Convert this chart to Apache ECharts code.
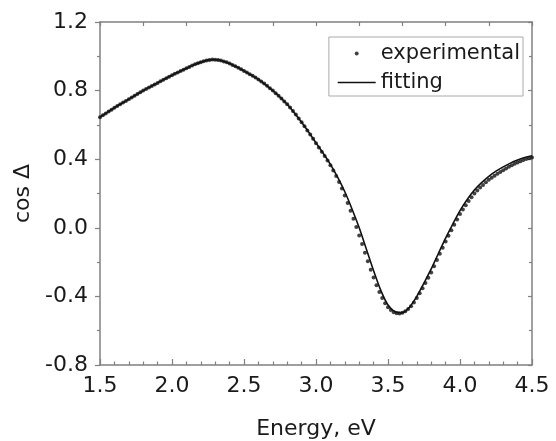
<!DOCTYPE html>
<html>
<head>
<meta charset="utf-8">
<script src="https://cdn.jsdelivr.net/npm/echarts@6/dist/echarts.min.js"></script>
<style>html,body{margin:0;padding:0;background:#fff}#c{width:556px;height:441px}</style>
</head>
<body>
<div id="c"></div>
<script>
// Experimental data: energy step 0.02 eV from 1.50 to 4.50
const expStart = 1.5;
const expStep = 0.02;
const expValues = [
0.645,0.656,0.667,0.678,0.689,0.700,0.710,0.720,0.730,0.740,
0.750,0.760,0.770,0.780,0.790,0.800,0.809,0.818,0.827,0.836,
0.845,0.854,0.863,0.872,0.881,0.890,0.898,0.906,0.914,0.922,
0.930,0.938,0.946,0.953,0.960,0.966,0.971,0.976,0.979,0.981,
0.980,0.978,0.975,0.970,0.965,0.958,0.950,0.942,0.933,0.924,
0.915,0.905,0.896,0.886,0.876,0.865,0.853,0.841,0.828,0.814,
0.800,0.785,0.770,0.754,0.737,0.720,0.701,0.681,0.660,0.638,
0.615,0.592,0.568,0.544,0.519,0.493,0.468,0.443,0.418,0.392,
0.364,0.334,0.302,0.267,0.229,0.188,0.145,0.100,0.053,0.004,
-0.045,-0.095,-0.145,-0.195,-0.245,-0.290,-0.335,-0.375,-0.410,-0.440,
-0.463,-0.480,-0.492,-0.498,-0.500,-0.496,-0.486,-0.474,-0.458,-0.435,
-0.410,-0.381,-0.352,-0.322,-0.291,-0.260,-0.224,-0.188,-0.152,-0.116,
-0.080,-0.047,-0.014,0.018,0.049,0.080,0.106,0.132,0.156,0.178,
0.200,0.217,0.235,0.250,0.265,0.280,0.292,0.304,0.315,0.325,
0.336,0.346,0.356,0.365,0.373,0.381,0.388,0.395,0.401,0.406,
0.410
];
// Fitting curve: energy step 0.05 eV from 1.50 to 4.50
const fitStart = 1.5;
const fitStep = 0.05;
const fitValues = [
0.645,0.673,0.700,0.725,0.750,0.775,0.800,0.823,0.845,0.868,
0.890,0.910,0.930,0.950,0.966,0.978,0.980,0.973,0.958,0.938,
0.915,0.891,0.865,0.834,0.800,0.762,0.720,0.670,0.615,0.557,
0.495,0.435,0.370,0.295,0.210,0.110,0.000,-0.125,-0.250,-0.365,
-0.450,-0.490,-0.495,-0.462,-0.400,-0.322,-0.240,-0.150,-0.060,0.022,
0.100,0.165,0.220,0.263,0.300,0.330,0.355,0.377,0.395,0.410,
0.420
];
const xTicks = [1.5, 2.0, 2.5, 3.0, 3.5, 4.0, 4.5];
const yTicks = [-0.8, -0.4, 0.0, 0.4, 0.8, 1.2];
const seriesNames = ['experimental', 'fitting'];
const xTitle = 'Energy, eV';
const yTitle = 'cos \u0394';

const expData = expValues.map((v, i) => [+(expStart + i * expStep).toFixed(2), v]);
const fitData = fitValues.map((v, i) => [+(fitStart + i * fitStep).toFixed(2), v]);

const FONT = 'DejaVu Sans';
const txtCol = '#1a1a1a';
const axisCol = '#808080';
const chart = echarts.init(document.getElementById('c'), null, {renderer: 'canvas'});
chart.setOption({
  animation: false,
  backgroundColor: '#fff',
  grid: {left: 100, right: 24, top: 22, bottom: 76, containLabel: false, outerBoundsMode: 'none'},
  legend: {
    orient: 'vertical',
    right: 33,
    top: 37,
    padding: [6, 3, 3, 8],
    borderColor: '#aaa',
    borderWidth: 1,
    itemWidth: 38,
    itemHeight: 4,
    itemGap: 8,
    textStyle: {fontFamily: FONT, fontSize: 21, color: txtCol},
    data: [
      {name: seriesNames[0], icon: 'circle', itemStyle: {color: '#111'}},
      {name: seriesNames[1], itemStyle: {color: 'rgba(0,0,0,0)', borderWidth: 0}, lineStyle: {color: '#111', width: 1.6}}
    ]
  },
  xAxis: [{
    type: 'value', min: 1.5, max: 4.5, interval: 0.5, position: 'bottom',
    name: xTitle, nameLocation: 'middle', nameGap: 53,
    nameTextStyle: {fontFamily: FONT, fontSize: 22, color: txtCol},
    axisLine: {show: true, onZero: false, lineStyle: {color: axisCol, width: 1.5}},
    axisTick: {show: true, inside: true, length: 6, lineStyle: {color: axisCol, width: 1.2}},
    minorTick: {show: true, splitNumber: 5, length: 3.5, lineStyle: {color: axisCol, width: 1.2}},
    axisLabel: {fontFamily: FONT, fontSize: 22, color: txtCol, margin: 10, formatter: v => xTicks.includes(+v.toFixed(1)) ? v.toFixed(1) : ''},
    splitLine: {show: false}
  }, {
    type: 'value', min: 1.5, max: 4.5, interval: 0.3, position: 'top',
    axisLine: {show: true, onZero: false, lineStyle: {color: axisCol, width: 1.5}},
    axisTick: {show: true, inside: true, length: 4, lineStyle: {color: axisCol, width: 1.2}},
    minorTick: {show: false},
    axisLabel: {show: false},
    splitLine: {show: false}
  }],
  yAxis: [{
    type: 'value', min: -0.8, max: 1.2, interval: 0.4, position: 'left',
    name: yTitle, nameLocation: 'middle', nameGap: 63, nameRotate: 90,
    nameTextStyle: {fontFamily: FONT, fontSize: 22, color: txtCol},
    axisLine: {show: true, onZero: false, lineStyle: {color: axisCol, width: 1.5}},
    axisTick: {show: true, inside: false, length: 5, lineStyle: {color: axisCol, width: 1.2}},
    minorTick: {show: true, splitNumber: 2, length: 3, lineStyle: {color: axisCol, width: 1.2}},
    axisLabel: {fontFamily: FONT, fontSize: 22, color: txtCol, margin: 12, formatter: v => yTicks.includes(+v.toFixed(1)) ? v.toFixed(1) : ''},
    splitLine: {show: false}
  }, {
    type: 'value', min: -0.8, max: 1.2, interval: 0.4, position: 'right',
    axisLine: {show: true, onZero: false, lineStyle: {color: axisCol, width: 1.5}},
    axisTick: {show: true, inside: true, length: 4, lineStyle: {color: axisCol, width: 1.2}},
    minorTick: {show: true, splitNumber: 2, length: 3, lineStyle: {color: axisCol, width: 1.2}},
    axisLabel: {show: false},
    splitLine: {show: false}
  }],
  series: [{
    name: seriesNames[0], type: 'scatter', xAxisIndex: 0, yAxisIndex: 0,
    data: expData, symbol: 'circle', symbolSize: 4,
    itemStyle: {color: '#111'}, z: 3
  }, {
    name: seriesNames[1], type: 'line', xAxisIndex: 0, yAxisIndex: 0,
    data: fitData, smooth: 0.3, showSymbol: false, symbol: 'none',
    lineStyle: {color: '#111', width: 1.6}, itemStyle: {color: '#111'}, z: 4
  }]
});
</script>
</body>
</html>
